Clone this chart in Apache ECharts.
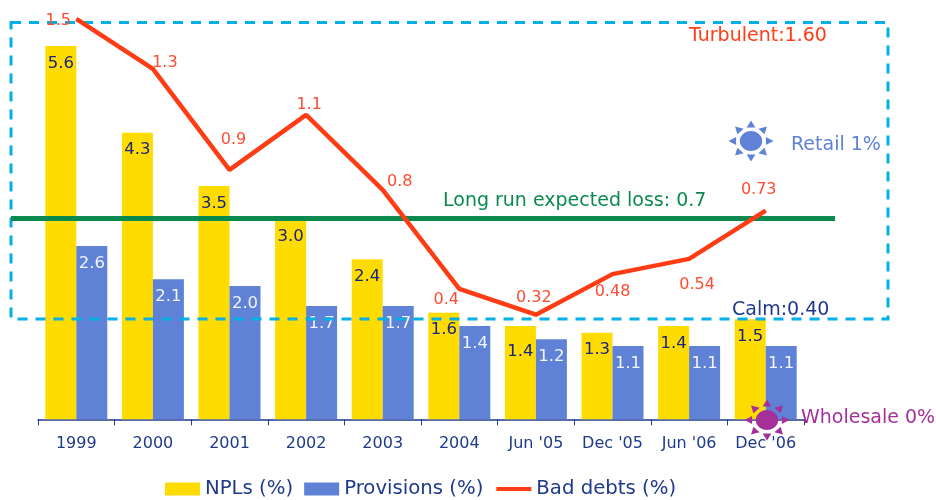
<!DOCTYPE html>
<html>
<head>
<meta charset="utf-8">
<style>html,body{margin:0;padding:0;background:#fff}#c{width:936px;height:500px}</style>
<script src="https://cdn.jsdelivr.net/npm/echarts@6/dist/echarts.min.js"></script>
</head>
<body>
<div id="c"></div>
<script>
const categories = ['1999','2000','2001','2002','2003','2004',"Jun '05","Dec '05","Jun '06","Dec '06"];
const npls = [5.6,4.3,3.5,3.0,2.4,1.6,1.4,1.3,1.4,1.5];
const provisions = [2.6,2.1,2.0,1.7,1.7,1.4,1.2,1.1,1.1,1.1];
const badDebts = [1.486,1.289,0.891,1.108,0.812,0.422,0.32,0.48,0.54,0.73];
const badDebtLabels = ['1.5','1.3','0.9','1.1','0.8','0.4','0.32','0.48','0.54','0.73'];
const longRunLoss = 0.7;

const FONT = '"DejaVu Sans", Verdana, sans-serif';
const NAVY = '#1F3A8A', YELLOW = '#FFDC00', BLUE = '#5F82D6', RED = '#FF3C14',
      GREEN = '#0B8A50', CYAN = '#00B0E6', PURPLE = '#A5309A';

const lineLabelShift = [[-18,2],[12,-6],[4,-30],[3,-10],[17,-8],[-13,11],[-2,-17],[0,18],[8,26],[-7,-21]];

function sun(cx, cy, color) {
  const kids = [{type:'ellipse',z:6,shape:{cx:0,cy:0,rx:10.2,ry:10},style:{fill:color}}];
  for (let i = 0; i < 8; i++) {
    kids.push({type:'polygon',z:6,rotation:-i*Math.PI/4,
      shape:{points:[[-4,-13.5],[4,-13.5],[0,-20.5]]},style:{fill:color}});
  }
  return {type:'group',x:cx,y:cy,z:6,scaleX:1.1,children:kids};
}
function note(text, x, y, color) {
  return {type:'text',x:x,y:y,z:6,style:{text:text,fill:color,font:'19px '+FONT,textVerticalAlign:'middle'}};
}

const chart = echarts.init(document.getElementById('c'), null, {renderer:'canvas'});
chart.setOption({
  animation:false,
  textStyle:{fontFamily:FONT},
  grid:{left:38,width:766,top:6,height:413.33},
  legend:{left:165,top:479,padding:0,itemWidth:35,itemHeight:13,itemGap:11,
    textStyle:{fontFamily:FONT,fontSize:19.7,color:NAVY},
    data:[{name:'NPLs (%)',icon:'rect'},{name:'Provisions (%)',icon:'rect'},
          {name:'Bad debts (%)',itemStyle:{opacity:0},lineStyle:{width:4,color:RED}}]},
  xAxis:{type:'category',data:categories,
    axisLine:{lineStyle:{color:NAVY,width:1.5}},
    axisTick:{show:true,length:6,lineStyle:{color:NAVY,width:1},alignWithLabel:false},
    axisLabel:{color:NAVY,fontSize:16,fontFamily:FONT,margin:17,interval:0}},
  yAxis:[
    {type:'value',min:0,max:6.2,show:false},
    {type:'value',min:-0.0926,max:1.5372,show:false}
  ],
  graphic:{elements:[
    {type:'rect',z:3,shape:{x:11,y:22.5,width:877,height:296.5},
      style:{fill:null,stroke:CYAN,lineWidth:3,lineDash:[10,8]}},
    note('Turbulent:1.60',689,36,RED),
    note('Retail 1%',791,145,BLUE),
    note('Long run expected loss: 0.7',443,201,GREEN),
    note('Calm:0.40',732,310,NAVY),
    note('Wholesale 0%',801,418,PURPLE),
    sun(751,141,BLUE),
    sun(767,420,PURPLE)
  ]},
  series:[
    {name:'NPLs (%)',type:'bar',data:npls.map((v,i)=>i===6
        ?{value:v,label:{offset:[0,8]}}:v),
      barWidth:31,barGap:'0%',z:2,itemStyle:{color:YELLOW},
      label:{show:true,position:'insideTop',distance:9,color:'#1A237E',fontSize:16.5,fontFamily:FONT,
        formatter:p=>p.value.toFixed(1)}},
    {name:'Provisions (%)',type:'bar',data:provisions,
      barWidth:31,z:2,itemStyle:{color:BLUE},
      label:{show:true,position:'insideTop',distance:9,color:'#F2F4FC',fontSize:16.5,fontFamily:FONT,
        formatter:p=>p.value.toFixed(1)}},
    {name:'Bad debts (%)',type:'line',yAxisIndex:1,z:5,symbol:'circle',symbolSize:1,showSymbol:true,
      lineStyle:{color:RED,width:4.5},itemStyle:{color:RED},
      data:badDebts.map((v,i)=>({value:v,label:{offset:lineLabelShift[i]}})),
      label:{show:true,position:'inside',color:'#FF4B33',fontSize:16,fontFamily:FONT,
        formatter:p=>badDebtLabels[p.dataIndex]},
      markLine:{silent:true,symbol:'none',z:4,animation:false,
        lineStyle:{color:GREEN,width:5,type:'solid'},label:{show:false},
        data:[[{xAxis:0,yAxis:longRunLoss,x:11},{xAxis:9,yAxis:longRunLoss,x:835}]]}}
  ]
});
</script>
</body>
</html>
